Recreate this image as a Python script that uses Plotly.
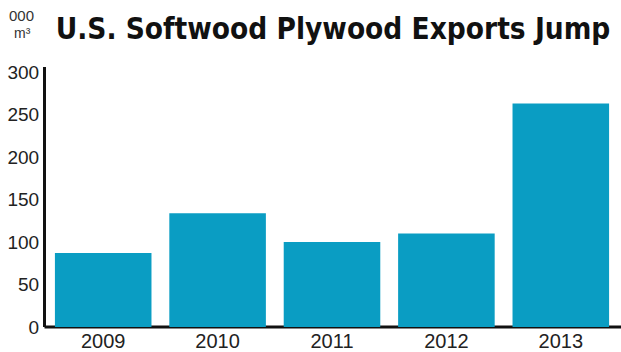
import plotly.graph_objects as go

years = ["2009", "2010", "2011", "2012", "2013"]
exports = [87, 134, 100, 110, 263]
y_ticks = [0, 50, 100, 150, 200, 250, 300]

W, H = 621, 352
fig = go.Figure(go.Bar(x=years, y=exports, marker=dict(color="#0a9dc3", line=dict(width=0))))

fig.update_layout(
    width=W, height=H,
    margin=dict(l=46, r=3, t=67, b=25, autoexpand=False),
    paper_bgcolor="white", plot_bgcolor="white",
    bargap=0.156,
    showlegend=False,
    title=dict(text="<b>U.S. Softwood Plywood Exports Jump</b>",
               font=dict(family="DejaVu Sans Condensed, Liberation Sans Narrow, Arial Narrow, sans-serif",
                         size=29.5, color="#111"),
               xref="container", yref="container", x=333/W, xanchor="center",
               y=1 - 29/H, yanchor="middle"),
    font=dict(family="Liberation Sans, Arial, sans-serif", color="#222"),
)
fig.update_yaxes(range=[0, 306], tickvals=y_ticks, showgrid=False, zeroline=False,
                 showline=True, linecolor="#111", linewidth=3, ticks="", automargin=False,
                 tickfont=dict(size=19, color="#222"), layer="below traces")
fig.update_xaxes(showline=False, ticks="", automargin=False,
                 tickfont=dict(size=20, color="#222"), layer="below traces")

# x axis baseline
fig.add_shape(type="line", xref="paper", yref="paper", x0=-1.5/572, x1=1 + 3/572, y0=0, y1=0,
              line=dict(color="#111", width=3), layer="below")

fig.add_annotation(text="000", xref="paper", yref="paper", x=-24.5/572, y=(327 - 26) / 260,
                   showarrow=False, font=dict(size=15, color="#333"), xanchor="center", yanchor="bottom")
fig.add_annotation(text="m³", xref="paper", yref="paper", x=-24/572, y=(327 - 43) / 260,
                   showarrow=False, font=dict(size=14, color="#333"), xanchor="center", yanchor="bottom")

fig.write_html("out.html")
